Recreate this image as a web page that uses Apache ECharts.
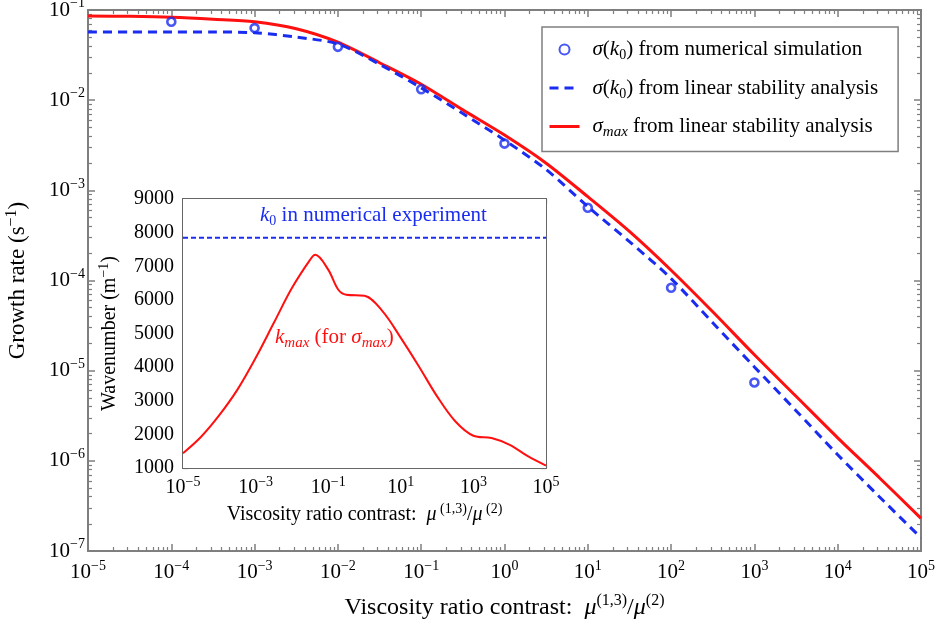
<!DOCTYPE html>
<html>
<head>
<meta charset="utf-8">
<script src="https://cdn.jsdelivr.net/npm/echarts@6/dist/echarts.min.js"></script>
<style>
html,body{margin:0;padding:0;background:#fff;}
#chart{width:936px;height:623px;}
</style>
</head>
<body>
<div id="chart"></div>
<script>
// ---------- DATA ----------
// main plot: x positions (viscosity ratio contrast), half decades
const xMain = [1e-5, 3.16e-5, 1e-4, 3.16e-4, 1e-3, 3.16e-3, 1e-2, 3.16e-2, 1e-1, 3.16e-1,
               1, 3.16, 10, 31.6, 100, 316, 1000, 3160, 1e4, 3.16e4, 1e5];
// sigma_max from linear stability analysis (red solid)
const sigmaMax = [0.086, 0.085, 0.083, 0.079, 0.074, 0.062, 0.044, 0.026, 0.0150, 0.0078,
                  0.0041, 0.0020, 8.5e-4, 3.5e-4, 1.3e-4, 4.5e-5, 1.5e-5, 5.2e-6, 1.8e-6, 6.5e-7, 2.3e-7];
// sigma(k0) from linear stability analysis (blue dashed)
const sigmaK0Lin = [0.057, 0.057, 0.057, 0.057, 0.056, 0.050, 0.042, 0.025, 0.0137, 0.0071,
                    0.0036, 0.0017, 6.6e-4, 2.7e-4, 1.05e-4, 3.4e-5, 1.1e-5, 3.6e-6, 1.17e-6, 4.0e-7, 1.4e-7];
// sigma(k0) from numerical simulation (blue circles)
const xSim = [1e-4, 1e-3, 1e-2, 1e-1, 1, 10, 100, 1000];
const sigmaK0Sim = [0.074, 0.063, 0.039, 0.0132, 0.0033, 6.4e-4, 8.3e-5, 7.4e-6];

// inset: wavenumber k_max vs viscosity ratio contrast
const xInset = [1e-5, 3.16e-5, 1e-4, 3.16e-4, 1e-3, 3.16e-3, 1e-2, 3.16e-2, 0.044, 0.1, 0.19, 0.316,
                1, 3.16, 10, 31.6, 100, 316, 1000, 3160, 1e4, 3.16e4, 1e5];
const kMax = [1440, 1930, 2570, 3330, 4270, 5310, 6350, 7190, 7340, 6900, 6300, 6150,
              6120, 5660, 4870, 4020, 3130, 2390, 1960, 1890, 1690, 1350, 1070];
const k0 = 7850;

// tick labels / tick positions
const mainXTicks = [1e-5, 1e-4, 1e-3, 1e-2, 1e-1, 1, 10, 100, 1000, 1e4, 1e5];
const mainYTicks = [1e-7, 1e-6, 1e-5, 1e-4, 1e-3, 1e-2, 1e-1];
const insetXLabels = [1e-5, 1e-3, 1e-1, 10, 1000, 1e5];
const insetXTicks = [1e-5, 1e-4, 1e-3, 1e-2, 1e-1, 1, 10, 100, 1000, 1e4, 1e5];
const insetYTicks = [1000, 2000, 3000, 4000, 5000, 6000, 7000, 8000, 9000];

// ---------- helpers ----------
const FONT = "'Liberation Serif', 'DejaVu Serif', serif";
const GREY = '#7f7f7f';
const IGREY = '#666';
const RED = '#ff1010';
const BLUE = '#1a2cf0';

const lg = v => Math.log10(v);
function minorExp(decades) {
  const out = [];
  for (let i = 0; i < decades.length - 1; i++) {
    for (let m = 2; m <= 9; m++) out.push(lg(decades[i] * m));
  }
  return out;
}
// label from exponent value (tick axes live in exponent space)
function expLabel(e) {
  const n = Math.round(e);
  return '{b|10}{s|' + String(n).replace('-', '\u2212') + '}';
}
function richTick(size) {
  return {
    b: {fontFamily: FONT, fontSize: size, color: '#000', lineHeight: size + 6, verticalAlign: 'middle'},
    s: {fontFamily: FONT, fontSize: Math.round(size * 0.68), color: '#000', lineHeight: Math.round(size * 0.68), verticalAlign: 'top'}
  };
}
const LF = 21;
const richText = {
  n: {fontFamily: FONT, fontSize: LF, color: '#000', lineHeight: 26, verticalAlign: 'middle'},
  i: {fontFamily: FONT, fontSize: LF, fontStyle: 'italic', color: '#000', lineHeight: 26, verticalAlign: 'middle'},
  sub: {fontFamily: FONT, fontSize: 14, color: '#000', lineHeight: 14, verticalAlign: 'bottom'},
  isub: {fontFamily: FONT, fontSize: 15, fontStyle: 'italic', color: '#000', lineHeight: 14, verticalAlign: 'bottom'}
};

// tick-only decoration axis in exponent space (value type)
function tickAxis(grid, pos, lo, hi, vals, len, color, w, label) {
  return {
    type: 'value', gridIndex: grid, position: pos, min: lo, max: hi,
    splitLine: {show: false},
    axisLabel: label ? label : {show: false},
    axisLine: {show: true, onZero: false, lineStyle: {color: color, width: 2}},
    axisTick: {show: true, inside: true, length: len, lineStyle: {color: color, width: w}, customValues: vals}
  };
}

const mainXMajorE = mainXTicks.map(lg);
const mainYMajorE = mainYTicks.map(lg);
const mainXMinorE = minorExp(mainXTicks);
const mainYMinorE = minorExp(mainYTicks);
const insetXMajorE = insetXTicks.map(lg);
const insetXMinorE = minorExp(insetXTicks);
const insetXLabelE = insetXLabels.map(lg);

const chart = echarts.init(document.getElementById('chart'), null, {renderer: 'canvas'});

const xAxes = [
  // 0: main data axis (log)
  {type: 'log', logBase: 10, gridIndex: 0, position: 'bottom', min: 1e-5, max: 1e5,
    splitLine: {show: false},
    axisLine: {show: true, onZero: false, lineStyle: {color: GREY, width: 2}},
    axisTick: {show: false},
    axisLabel: {show: false},
    name: '{n|Viscosity ratio contrast:  }{m|\u03bc}{s|(1,3)}{n|/}{m|\u03bc}{s|(2)}',
    nameLocation: 'middle', nameGap: 42,
    nameTextStyle: {rich: {
      n: {fontFamily: FONT, fontSize: 24, color: '#000', lineHeight: 30, verticalAlign: 'middle'},
      m: {fontFamily: FONT, fontSize: 24, fontStyle: 'italic', color: '#000', lineHeight: 30, verticalAlign: 'middle'},
      s: {fontFamily: FONT, fontSize: 16, color: '#000', lineHeight: 16, verticalAlign: 'top'}
    }}
  },
  tickAxis(0, 'bottom', -5, 5, mainXMajorE, 7, GREY, 1.5,
    {show: true, margin: 8, customValues: mainXMajorE, formatter: expLabel, rich: richTick(21)}),
  tickAxis(0, 'bottom', -5, 5, mainXMinorE, 4, GREY, 1.2),
  tickAxis(0, 'top', -5, 5, mainXMajorE, 7, GREY, 1.5),
  tickAxis(0, 'top', -5, 5, mainXMinorE, 4, GREY, 1.2),
  // 5: inset data axis (log)
  {type: 'log', logBase: 10, gridIndex: 1, position: 'bottom', min: 1e-5, max: 1e5,
    splitLine: {show: false},
    axisLine: {show: true, onZero: false, lineStyle: {color: IGREY, width: 2}},
    axisTick: {show: false},
    axisLabel: {show: false},
    name: '{n|Viscosity ratio contrast:  }{m|\u03bc}{s| (1,3)}{n|/}{m|\u03bc}{s| (2)}',
    nameLocation: 'middle', nameGap: 34,
    nameTextStyle: {rich: {
      n: {fontFamily: FONT, fontSize: 20, color: '#000', lineHeight: 26, verticalAlign: 'middle'},
      m: {fontFamily: FONT, fontSize: 20, fontStyle: 'italic', color: '#000', lineHeight: 26, verticalAlign: 'middle'},
      s: {fontFamily: FONT, fontSize: 14, color: '#000', lineHeight: 14, verticalAlign: 'top'}
    }}
  },
  tickAxis(1, 'bottom', -5, 5, insetXMajorE, 5, IGREY, 1.2,
    {show: true, margin: 7, customValues: insetXLabelE, formatter: expLabel, rich: richTick(20)}),
  tickAxis(1, 'bottom', -5, 5, insetXMinorE, 3, IGREY, 1),
  tickAxis(1, 'top', -5, 5, insetXMajorE, 5, IGREY, 1.2),
  tickAxis(1, 'top', -5, 5, insetXMinorE, 3, IGREY, 1)
];

const yAxes = [
  // 0: main data axis (log)
  {type: 'log', logBase: 10, gridIndex: 0, position: 'left', min: 1e-7, max: 1e-1,
    splitLine: {show: false},
    axisLine: {show: true, onZero: false, lineStyle: {color: GREY, width: 2}},
    axisTick: {show: false},
    axisLabel: {show: false},
    name: '{n|Growth rate (s}{s|\u22121}{n|)}',
    nameLocation: 'middle', nameGap: 56,
    nameTextStyle: {rich: {
      n: {fontFamily: FONT, fontSize: 23, color: '#000', lineHeight: 28, verticalAlign: 'middle'},
      s: {fontFamily: FONT, fontSize: 16, color: '#000', lineHeight: 16, verticalAlign: 'top'}
    }}
  },
  tickAxis(0, 'left', -7, -1, mainYMajorE, 7, GREY, 1.5,
    {show: true, margin: 3, customValues: mainYMajorE, formatter: expLabel, rich: richTick(21)}),
  tickAxis(0, 'left', -7, -1, mainYMinorE, 4, GREY, 1.2),
  tickAxis(0, 'right', -7, -1, mainYMajorE, 7, GREY, 1.5),
  tickAxis(0, 'right', -7, -1, mainYMinorE, 4, GREY, 1.2),
  // 5: inset data axis
  {type: 'value', gridIndex: 1, position: 'left', min: 1000, max: 9000, interval: 1000,
    splitLine: {show: false},
    axisLine: {show: true, onZero: false, lineStyle: {color: IGREY, width: 2}},
    axisTick: {show: true, inside: true, length: 5, lineStyle: {color: IGREY, width: 1.2}},
    axisLabel: {show: true, margin: 9, fontFamily: FONT, fontSize: 20, color: '#000',
      customValues: insetYTicks, formatter: v => String(v)},
    name: '{n|Wavenumber (m}{s|\u22121}{n|)}',
    nameLocation: 'middle', nameGap: 60,
    nameTextStyle: {rich: {
      n: {fontFamily: FONT, fontSize: 20, color: '#000', lineHeight: 26, verticalAlign: 'middle'},
      s: {fontFamily: FONT, fontSize: 14, color: '#000', lineHeight: 14, verticalAlign: 'top'}
    }}
  },
  {type: 'value', gridIndex: 1, position: 'right', min: 1000, max: 9000, interval: 1000,
    splitLine: {show: false},
    axisLine: {show: true, onZero: false, lineStyle: {color: IGREY, width: 2}},
    axisTick: {show: true, inside: true, length: 5, lineStyle: {color: IGREY, width: 1.2}},
    axisLabel: {show: false}
  }
];

const legendNames = {
  sim: '{i|\u03c3}{n|(}{i|k}{sub|0}{n|) from numerical simulation}',
  lin: '{i|\u03c3}{n|(}{i|k}{sub|0}{n|) from linear stability analysis}',
  max: '{i|\u03c3}{isub|max}{n| from linear stability analysis}'
};

const option = {
  animation: false,
  backgroundColor: '#fff',
  grid: [
    {left: 88, right: 15, top: 10, bottom: 72, outerBoundsMode: 'none', containLabel: false},
    {left: 183, top: 199, width: 363, height: 269, show: true, backgroundColor: '#fff', borderWidth: 0,
     outerBoundsMode: 'none', containLabel: false, z: 5}
  ],
  xAxis: xAxes,
  yAxis: yAxes,
  legend: {
    orient: 'vertical',
    left: 542, top: 27,
    padding: [12, 20, 12, 6],
    itemGap: 15,
    itemWidth: 30, itemHeight: 10,
    borderColor: GREY, borderWidth: 1.5,
    backgroundColor: '#fff',
    lineStyle: {width: 3},
    data: [
      {name: 'sim'},
      {name: 'lin', itemStyle: {opacity: 0}},
      {name: 'max', itemStyle: {opacity: 0}}
    ],
    formatter: function (name) { return legendNames[name]; },
    textStyle: {fontFamily: FONT, fontSize: LF, color: '#000', padding: [0, 0, 0, 8], rich: richText}
  },
  series: [
    {name: 'lin', type: 'line', xAxisIndex: 0, yAxisIndex: 0, smooth: 0.3,
     data: xMain.map((x, i) => [x, sigmaK0Lin[i]]),
     showSymbol: false, symbol: 'none',
     lineStyle: {color: BLUE, width: 3, type: [9, 6]}, itemStyle: {color: BLUE}, z: 3},
    {name: 'max', type: 'line', xAxisIndex: 0, yAxisIndex: 0, smooth: 0.3,
     data: xMain.map((x, i) => [x, sigmaMax[i]]),
     showSymbol: false, symbol: 'none',
     lineStyle: {color: RED, width: 3}, itemStyle: {color: RED}, z: 2},
    {name: 'sim', type: 'scatter', xAxisIndex: 0, yAxisIndex: 0,
     data: xSim.map((x, i) => [x, sigmaK0Sim[i]]),
     symbol: 'circle', symbolSize: 8,
     itemStyle: {color: 'rgba(255,255,255,0)', borderColor: BLUE, borderWidth: 2.6}, z: 4},
    {name: 'kmax', type: 'line', xAxisIndex: 5, yAxisIndex: 5, smooth: 0.35,
     data: xInset.map((x, i) => [x, kMax[i]]),
     showSymbol: false, symbol: 'none',
     lineStyle: {color: RED, width: 2}, z: 6},
    {name: 'k0', type: 'line', xAxisIndex: 5, yAxisIndex: 5,
     data: [[insetXTicks[0], k0], [insetXTicks[insetXTicks.length - 1], k0]],
     showSymbol: false, symbol: 'none',
     lineStyle: {color: BLUE, width: 2, type: [5, 3]}, z: 6}
  ],
  graphic: [
    {type: 'text', left: 260, top: 205, z: 100,
     style: {text: '{i|k}{sub|0}{n| in numerical experiment}', fill: BLUE,
       rich: {
         n: {fontFamily: FONT, fontSize: 21, fill: BLUE, lineHeight: 26, verticalAlign: 'middle'},
         i: {fontFamily: FONT, fontSize: 21, fontStyle: 'italic', fill: BLUE, lineHeight: 26, verticalAlign: 'middle'},
         sub: {fontFamily: FONT, fontSize: 14, fill: BLUE, lineHeight: 14, verticalAlign: 'bottom'}
       }}},
    {type: 'text', left: 275, top: 327, z: 100,
     style: {text: '{i|k}{isub|max}{n| (for }{i|\u03c3}{isub|max}{n|)}', fill: RED,
       rich: {
         n: {fontFamily: FONT, fontSize: 21, fill: RED, lineHeight: 26, verticalAlign: 'middle'},
         i: {fontFamily: FONT, fontSize: 21, fontStyle: 'italic', fill: RED, lineHeight: 26, verticalAlign: 'middle'},
         isub: {fontFamily: FONT, fontSize: 15, fontStyle: 'italic', fill: RED, lineHeight: 14, verticalAlign: 'bottom'}
       }}}
  ]
};
chart.setOption(option);
</script>
</body>
</html>
